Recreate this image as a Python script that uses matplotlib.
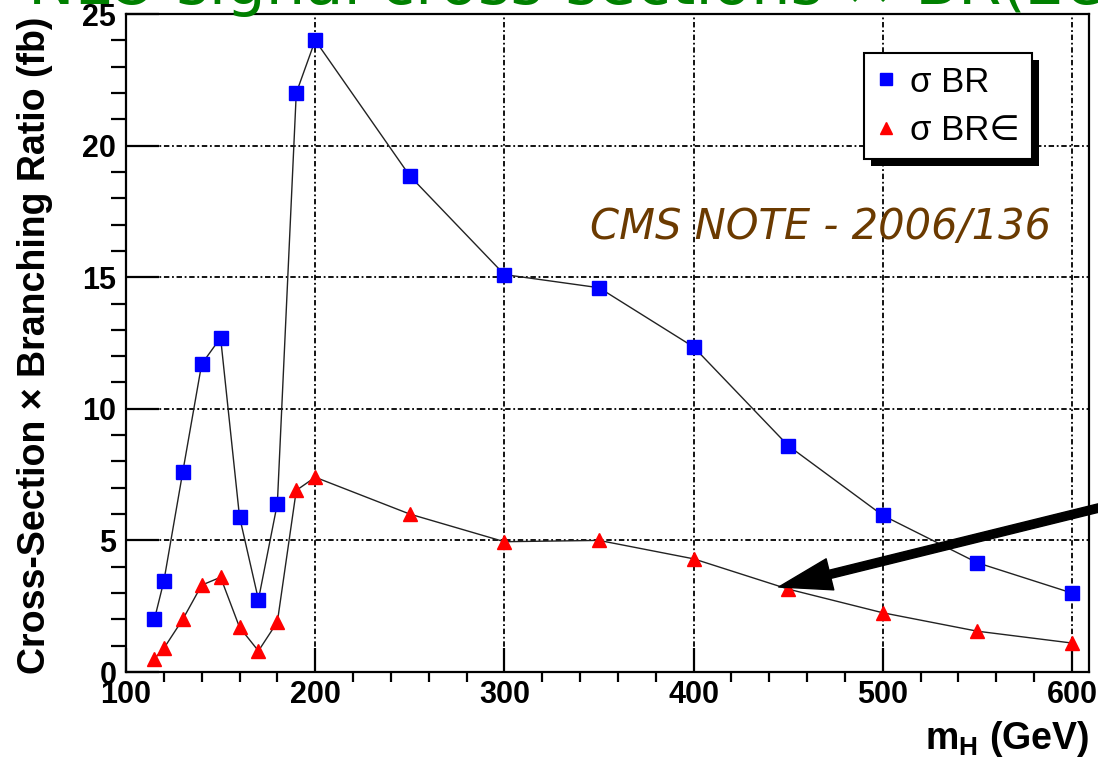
import matplotlib
matplotlib.use("Agg")
import matplotlib.pyplot as plt
from matplotlib.lines import Line2D
from matplotlib.patches import Rectangle
from matplotlib.transforms import IdentityTransform
from matplotlib.ticker import MultipleLocator

# higgs mass points (GeV)
mass = [115, 120, 130, 140, 150, 160, 170, 180, 190, 200,
        250, 300, 350, 400, 450, 500, 550, 600]
# sigma x BR (fb)
sigma_br = [2.0, 3.45, 7.6, 11.7, 12.7, 5.9, 2.75, 6.4, 22.0, 24.0,
            18.85, 15.1, 14.6, 12.35, 8.6, 5.95, 4.15, 3.0]
# sigma x BR x eff (fb)
sigma_br_eff = [0.5, 0.9, 2.0, 3.3, 3.6, 1.7, 0.8, 1.9, 6.9, 7.4,
                6.0, 4.95, 5.0, 4.3, 3.15, 2.25, 1.55, 1.1]

labels = ["\u03c3 BR", "\u03c3 BR\u2208"]
title = "NLO signal cross-sections \u00d7 BR(2e2\u03bc)"
note = "CMS NOTE - 2006/136"
arrow_tip = (445, 3.23)

plt.rcParams['font.family'] = ['Liberation Sans', 'DejaVu Sans']
plt.rcParams['mathtext.fontset'] = 'custom'
plt.rcParams['mathtext.rm'] = 'Liberation Sans'
plt.rcParams['mathtext.bf'] = 'Liberation Sans:bold'

fig = plt.figure(figsize=(10.98, 7.58), dpi=100)
ax = fig.add_axes([126/1098, 86/758, 963/1098, 658/758])

ax.plot(mass, sigma_br, color='#222222', lw=1.0, marker='s', ms=9.5,
        mfc='#0000ff', mec='#0000ff', zorder=3)
ax.plot(mass, sigma_br_eff, color='#222222', lw=1.0, marker='^', ms=9.5,
        mfc='#ff0000', mec='#ff0000', zorder=3)

ax.set_xlim(100, 609)
ax.set_ylim(0, 25)
ax.xaxis.set_major_locator(MultipleLocator(100))
ax.xaxis.set_minor_locator(MultipleLocator(20))
ax.yaxis.set_major_locator(MultipleLocator(5))
ax.yaxis.set_minor_locator(MultipleLocator(1))

ax.grid(True, which='major', color='black', lw=1.3,
        linestyle=(0, (3, 1.5, 1, 1.5)))
ax.set_axisbelow(True)

for s in ax.spines.values():
    s.set_linewidth(1.6)

ax.tick_params(axis='both', direction='in', top=False, right=False,
               labelsize=22, width=1.6)
ax.tick_params(axis='y', which='major', length=24, pad=7)
ax.tick_params(axis='y', which='minor', length=11, width=1.6)
ax.tick_params(axis='x', which='major', length=17, pad=6)
ax.tick_params(axis='x', which='minor', length=7, width=1.6)
for lab in ax.get_xticklabels() + ax.get_yticklabels():
    lab.set_fontweight('bold')

ax.set_xlabel(r'$\mathbf{m_H}$ (GeV)', fontsize=27, fontweight='bold')
ax.xaxis.set_label_coords(1.0, -0.072)
ax.xaxis.label.set_horizontalalignment('right')
ax.set_ylabel('Cross-Section \u00d7 Branching Ratio (fb)', fontsize=27,
              fontweight='bold')
ax.yaxis.set_label_coords(-0.076, 0.497)

handles = [Line2D([], [], ls='none', marker='s', ms=8.5, mfc='#0000ff', mec='#0000ff'),
           Line2D([], [], ls='none', marker='^', ms=8.5, mfc='#ff0000', mec='#ff0000')]
leg = ax.legend(handles, labels, loc='upper right', bbox_to_anchor=(0.941, 0.94),
                fontsize=25, frameon=True, fancybox=False, handlelength=0.6,
                handletextpad=0.4, borderpad=0.35, labelspacing=0.45,
                borderaxespad=0, framealpha=1)
leg.get_frame().set_edgecolor('black')
leg.get_frame().set_facecolor('white')
leg.get_frame().set_linewidth(1.5)
leg.set_zorder(6)

ax.text(345.5, 16.9, note, fontsize=30, style='italic', color='#6b3a00',
        family='DejaVu Sans', ha='left', va='center')

fig.text(28/1098, 1 - 4/758, title, fontsize=45, color='#008000',
         family='DejaVu Sans', ha='left', va='baseline')

ax.annotate('', xy=arrow_tip, xycoords='data',
            xytext=(1.03, 1 - 500/758), textcoords='figure fraction',
            arrowprops=dict(facecolor='black', edgecolor='black', width=6,
                            headwidth=23, headlength=38, shrink=0),
            annotation_clip=False)

# ROOT style black shadow under the legend box
fig.canvas.draw()
bb = leg.get_frame().get_window_extent(fig.canvas.get_renderer())
shadow = Rectangle((bb.x0 + 7, bb.y0 - 7), bb.width, bb.height,
                   transform=IdentityTransform(), facecolor='black',
                   edgecolor='none', zorder=5.5, clip_on=False)
ax.add_artist(shadow)

fig.savefig('out.png', dpi=100)
